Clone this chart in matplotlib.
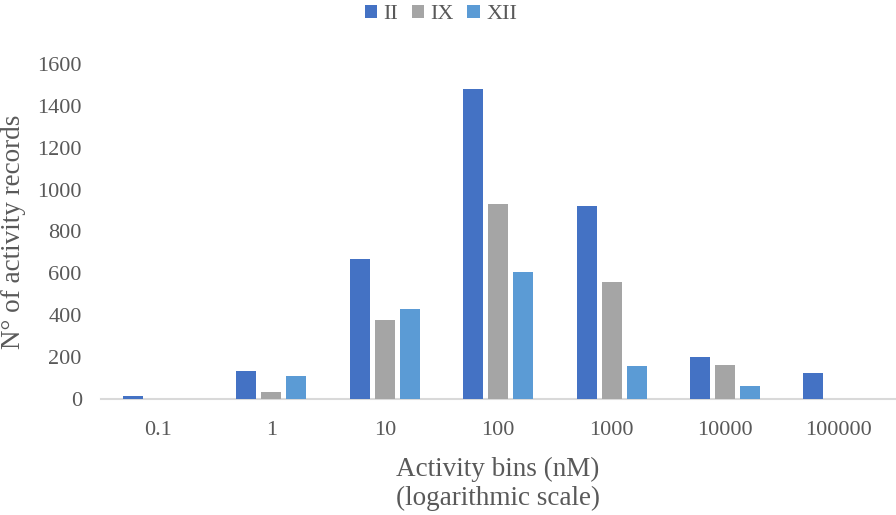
import numpy as np
import matplotlib
matplotlib.use("Agg")
import matplotlib.pyplot as plt

# Excel-like palette
BLUE  = "#4472C4"
GREY  = "#A5A5A5"
LBLUE = "#5B9BD5"
TEXT  = "#595959"
AXIS  = "#D9D9D9"

bins   = ["0.1", "1", "10", "100", "1000", "10000", "100000"]
series = ["II", "IX", "XII"]
ii     = [16, 134, 668, 1482, 922, 199, 123]
ix     = [0, 32, 376, 929, 560, 161, 0]
xii    = [0, 108, 428, 605, 158, 62, 0]

plt.rcParams["font.family"] = ["Liberation Serif", "DejaVu Serif"]

fig = plt.figure(figsize=(8.96, 5.15), dpi=100)
ax = fig.add_axes([0.113, 0.225, 0.886, 0.651])

x = np.arange(len(bins))
w = 0.176
step = 0.22
for vals, off, col, lab in zip([ii, ix, xii], [-step, 0, step],
                               [BLUE, GREY, LBLUE], series):
    ax.bar(x + off, vals, w, color=col, label=lab, zorder=3)

ax.set_xlim(-0.5, len(bins) - 0.5)
ax.set_ylim(0, 1600)
ax.set_yticks(np.arange(0, 1601, 200))
ax.set_xticks(x)
ax.set_xticklabels(bins)
ax.tick_params(axis="both", length=0, labelsize=16, colors=TEXT)
ax.tick_params(axis="y", pad=14)
ax.tick_params(axis="x", pad=16)

for s in ["top", "right", "left"]:
    ax.spines[s].set_visible(False)
ax.spines["bottom"].set_color(AXIS)
ax.spines["bottom"].set_linewidth(1.5)

ax.set_ylabel("N° of activity records", fontsize=19.5, color=TEXT, labelpad=8)
ax.set_xlabel("Activity bins (nM)\n(logarithmic scale)", fontsize=19.5,
              color=TEXT, labelpad=12, linespacing=1.2)

leg = fig.legend(loc="center", bbox_to_anchor=(0.492, 0.972), ncol=3,
                 frameon=False, fontsize=16, handlelength=0.55,
                 handleheight=0.55, handletextpad=0.3, columnspacing=0.6)
for t in leg.get_texts():
    t.set_color(TEXT)

fig.savefig("out.png", dpi=100, facecolor="white")
